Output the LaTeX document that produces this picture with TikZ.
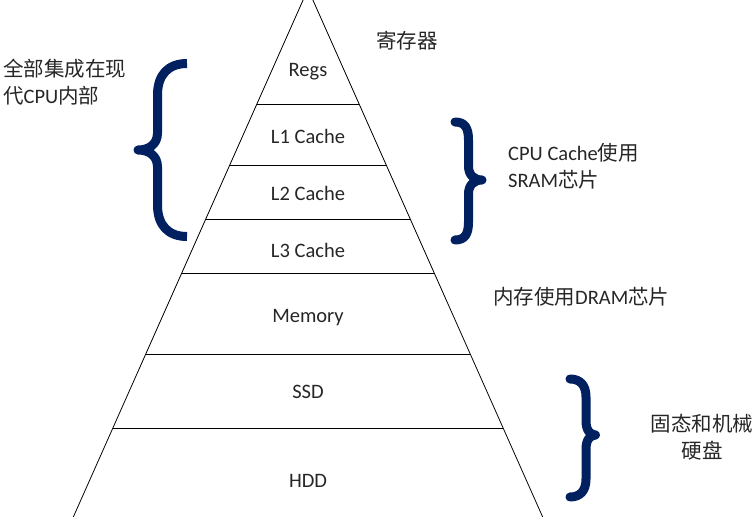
\documentclass[tikz,border=0pt]{standalone}
\usepackage{fontspec}
\setmainfont{Carlito}
\newfontfamily\cjk{Noto Sans CJK SC}
\usetikzlibrary{calc}
\definecolor{BraceBlue}{HTML}{002060}
\definecolor{TextGray}{HTML}{262626}

\begin{document}
\begin{tikzpicture}[x=1pt, y=-1pt,
        every node/.style={inner sep=0pt, text=TextGray, font=\fontsize{20.5}{27.5}\selectfont},
        tier/.style={anchor=base},
        sidetext/.style={align=left, anchor=west},
        bracestroke/.style={draw=BraceBlue, line width=9pt, line cap=round, line join=round}]
    \useasboundingbox (0,0) rectangle (756,517);
    \clip (0,0) rectangle (756,517);
    % pyramid
    \coordinate (apex) at (308,-11);
    \coordinate (bl) at (73.3,517);
    \coordinate (br) at (542.7,517);
    \draw[line width=0.8pt] (bl) -- (apex) -- (br);
    \foreach \y in {104,165,219,273,354,428}
        \draw[line width=0.8pt] ($(apex)!{(\y+11)/528}!(bl)$) -- ($(apex)!{(\y+11)/528}!(br)$);
    \node[tier] (regs) at (308,76) {Regs};
    \node[tier] (l1) at (308,143) {L1 Cache};
    \node[tier] (l2) at (308,200) {L2 Cache};
    \node[tier] (l3) at (308,257) {L3 Cache};
    \node[tier] (mem) at (308,322) {Memory};
    \node[tier] (ssd) at (308,398) {SSD};
    \node[tier] (hdd) at (308,487) {HDD};
    % braces
    \draw[bracestroke, line cap=butt] (187,63.5) .. controls (168,63.5) and (157.5,75) .. (157.5,95)
        -- (157.5,133) .. controls (157.5,145) and (148,150) .. (138,150)
        .. controls (148,150) and (157.5,155) .. (157.5,167)
        -- (157.5,205) .. controls (157.5,225) and (168,236.5) .. (187,236.5);
    \draw[bracestroke] (455,122) .. controls (465,122) and (468.5,128) .. (468.5,140)
        -- (468.5,166) .. controls (468.5,175) and (474,180) .. (482,180)
        .. controls (474,180) and (468.5,185) .. (468.5,194)
        -- (468.5,222) .. controls (468.5,234) and (465,240) .. (455,240);
    \draw[bracestroke] (570,379) .. controls (580,379) and (586,385) .. (586,397)
        -- (586,421) .. controls (586,430) and (590,435) .. (595.5,435)
        .. controls (590,435) and (586,440) .. (586,449)
        -- (586,479) .. controls (586,491) and (580,497) .. (570,497);
    % notes
    \node[sidetext] (cpuin) at (3,82) {{\cjk 全部集成在现}\\{\cjk 代}CPU{\cjk 内部}};
    \node (regname) at (407,41) {\cjk 寄存器};
    \node[sidetext] (sram) at (508,166) {CPU Cache{\cjk 使用}\\SRAM{\cjk 芯片}};
    \node[sidetext] (dram) at (493,297) {{\cjk 内存使用}DRAM{\cjk 芯片}};
    \node[align=center] (disk) at (702,437) {{\cjk 固态和机械}\\{\cjk 硬盘}};
\end{tikzpicture}
\end{document}
